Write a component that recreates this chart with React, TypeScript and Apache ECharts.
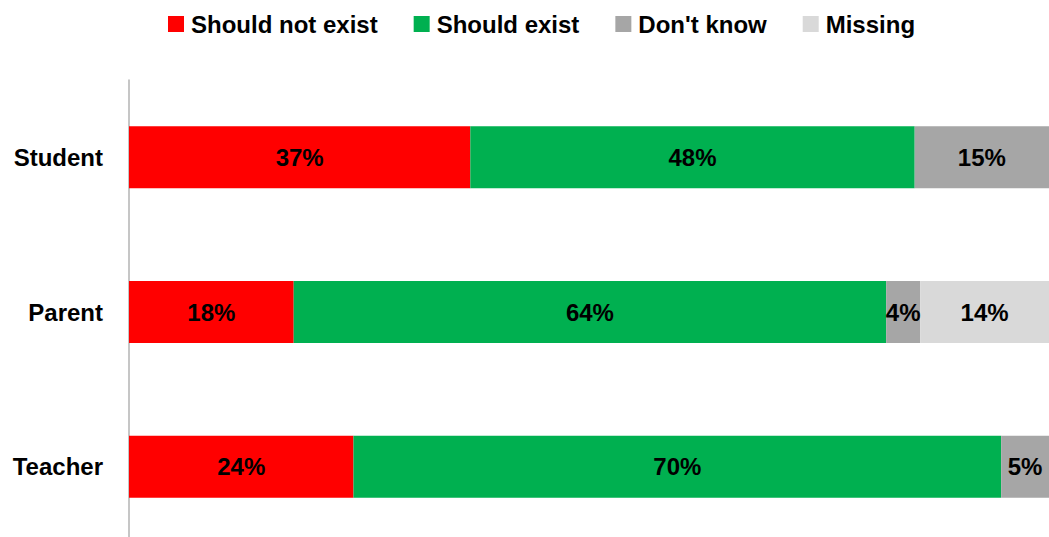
import React, { useEffect, useRef } from "react";
import * as echarts from "echarts";

const categories = ["Student", "Parent", "Teacher"];
const seriesNames = ["Should not exist", "Should exist", "Don't know", "Missing"];
const shouldNotExist = [37.1, 17.9, 24.4];
const shouldExist = [48.3, 64.4, 70.4];
const dontKnow = [14.6, 3.7, 5.2];
const missing = [0, 14.0, 0];
const colors = ["#FF0000", "#00B050", "#A6A6A6", "#D9D9D9"];

const FONT = "'Liberation Sans', Arial, sans-serif";

export default function App() {
  const ref = useRef<HTMLDivElement>(null);
  useEffect(() => {
    if (!ref.current) return;
    const chart = echarts.init(ref.current, null, { renderer: "svg" });
    const values = [shouldNotExist, shouldExist, dontKnow, missing];
    chart.setOption({
      animation: false,
      legend: {
        top: 6,
        left: 163,
        itemWidth: 16,
        itemHeight: 16,
        itemGap: 36,
        icon: "rect",
        textStyle: {
          fontFamily: FONT,
          fontWeight: "bold",
          fontSize: 24,
          color: "#000",
          lineHeight: 26,
          padding: [0, 0, 0, 2],
        },
        data: seriesNames,
      },
      grid: { left: 129, right: 0, top: 80, bottom: 0, containLabel: false },
      xAxis: {
        type: "value",
        min: 0,
        max: 100,
        show: false,
      },
      yAxis: {
        type: "category",
        data: categories,
        inverse: true,
        axisLine: { show: true, lineStyle: { color: "#B3B3B3", width: 1.5 } },
        axisTick: { show: false },
        axisLabel: { fontFamily: FONT, fontWeight: "bold", fontSize: 24, color: "#000", margin: 26 },
      },
      series: seriesNames.map((name, i) => ({
        name,
        type: "bar",
        stack: "total",
        barWidth: 62,
        itemStyle: { color: colors[i] },
        label: {
          show: true,
          position: "inside",
          fontFamily: FONT,
          fontWeight: "bold",
          fontSize: 24,
          color: "#000",
          formatter: (p: any) => (p.value > 0 ? Math.round(p.value) + "%" : ""),
        },
        data: values[i],
      })),
    });
    return () => chart.dispose();
  }, []);
  return (
    <div style={{ position: "absolute", left: 0, top: 0, width: 1049, height: 537, overflow: "hidden" }}>
      <div ref={ref} style={{ width: 1049, height: 543.5 }} />
    </div>
  );
}
